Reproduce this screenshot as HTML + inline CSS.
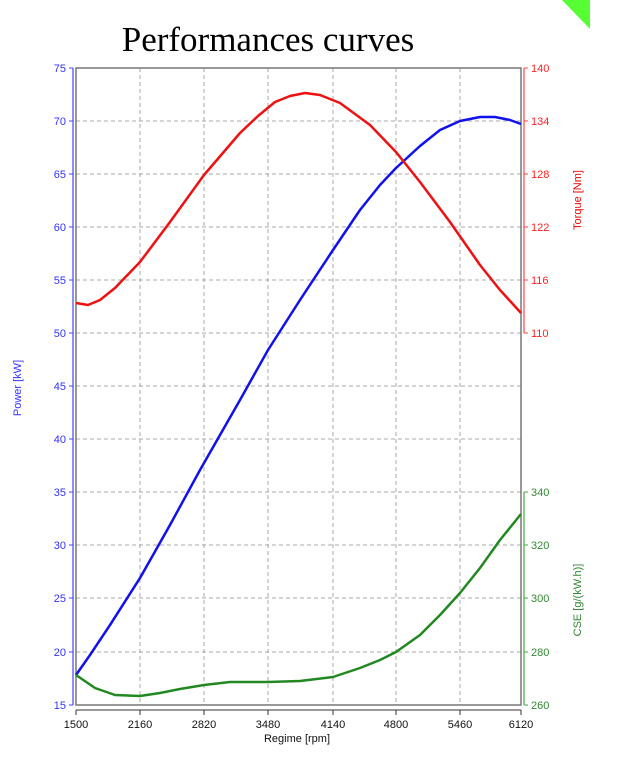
<!DOCTYPE html><html><head><style>body{margin:0;background:#fff}svg{display:block}</style></head><body>
<svg width="617" height="768" xmlns="http://www.w3.org/2000/svg" font-family="Liberation Sans, sans-serif">
<polygon points="562,0 590,0 590,29" fill="#55ff33"/>
<text x="268" y="51" font-family="Liberation Serif, serif" font-size="35" text-anchor="middle">Performances curves</text>
<g stroke="#aaa" stroke-dasharray="4,3" stroke-width="1">
<line x1="140" y1="68" x2="140" y2="705"/><line x1="204" y1="68" x2="204" y2="705"/><line x1="268" y1="68" x2="268" y2="705"/><line x1="333" y1="68" x2="333" y2="705"/><line x1="396" y1="68" x2="396" y2="705"/><line x1="460" y1="68" x2="460" y2="705"/>
<line x1="76" y1="121" x2="521" y2="121"/><line x1="76" y1="174" x2="521" y2="174"/><line x1="76" y1="227" x2="521" y2="227"/><line x1="76" y1="280" x2="521" y2="280"/><line x1="76" y1="333" x2="521" y2="333"/><line x1="76" y1="386" x2="521" y2="386"/><line x1="76" y1="439" x2="521" y2="439"/><line x1="76" y1="492" x2="521" y2="492"/><line x1="76" y1="545" x2="521" y2="545"/><line x1="76" y1="598" x2="521" y2="598"/><line x1="76" y1="652" x2="521" y2="652"/>
</g>
<rect x="76" y="68" width="445" height="637" fill="none" stroke="#777" stroke-width="1.5"/>
<line x1="73" y1="68" x2="73" y2="705" stroke="#44f" stroke-width="1.2"/>
<g stroke="#44f"><line x1="69" y1="68" x2="73" y2="68"/><line x1="69" y1="121" x2="73" y2="121"/><line x1="69" y1="174" x2="73" y2="174"/><line x1="69" y1="227" x2="73" y2="227"/><line x1="69" y1="280" x2="73" y2="280"/><line x1="69" y1="333" x2="73" y2="333"/><line x1="69" y1="386" x2="73" y2="386"/><line x1="69" y1="439" x2="73" y2="439"/><line x1="69" y1="492" x2="73" y2="492"/><line x1="69" y1="545" x2="73" y2="545"/><line x1="69" y1="598" x2="73" y2="598"/><line x1="69" y1="652" x2="73" y2="652"/><line x1="69" y1="705" x2="73" y2="705"/></g>
<g fill="#33f" font-size="11" text-anchor="end"><text x="66" y="72">75</text><text x="66" y="125">70</text><text x="66" y="178">65</text><text x="66" y="231">60</text><text x="66" y="284">55</text><text x="66" y="337">50</text><text x="66" y="390">45</text><text x="66" y="443">40</text><text x="66" y="496">35</text><text x="66" y="549">30</text><text x="66" y="602">25</text><text x="66" y="656">20</text><text x="66" y="709">15</text></g>
<text transform="translate(21,388) rotate(-90)" fill="#33f" font-size="11" text-anchor="middle">Power [kW]</text>
<line x1="524" y1="68" x2="524" y2="333" stroke="#f44" stroke-width="1.2"/>
<g stroke="#f44"><line x1="524" y1="68" x2="528" y2="68"/><line x1="524" y1="121" x2="528" y2="121"/><line x1="524" y1="174" x2="528" y2="174"/><line x1="524" y1="227" x2="528" y2="227"/><line x1="524" y1="280" x2="528" y2="280"/><line x1="524" y1="333" x2="528" y2="333"/></g>
<g fill="#f22" font-size="11"><text x="531" y="72">140</text><text x="531" y="125">134</text><text x="531" y="178">128</text><text x="531" y="231">122</text><text x="531" y="284">116</text><text x="531" y="337">110</text></g>
<text transform="translate(581,200) rotate(-90)" fill="#e00" font-size="11" text-anchor="middle">Torque [Nm]</text>
<line x1="524" y1="492" x2="524" y2="705" stroke="#4a4" stroke-width="1.2"/>
<g stroke="#4a4"><line x1="524" y1="492" x2="528" y2="492"/><line x1="524" y1="545" x2="528" y2="545"/><line x1="524" y1="598" x2="528" y2="598"/><line x1="524" y1="652" x2="528" y2="652"/><line x1="524" y1="705" x2="528" y2="705"/></g>
<g fill="#383" font-size="11"><text x="531" y="496">340</text><text x="531" y="549">320</text><text x="531" y="602">300</text><text x="531" y="656">280</text><text x="531" y="709">260</text></g>
<text transform="translate(581,600) rotate(-90)" fill="#383" font-size="11" text-anchor="middle">CSE [g/(kW.h)]</text>
<line x1="76" y1="710" x2="521" y2="710" stroke="#333"/>
<g stroke="#333"><line x1="76" y1="710" x2="76" y2="715"/><line x1="140" y1="710" x2="140" y2="715"/><line x1="204" y1="710" x2="204" y2="715"/><line x1="268" y1="710" x2="268" y2="715"/><line x1="333" y1="710" x2="333" y2="715"/><line x1="396" y1="710" x2="396" y2="715"/><line x1="460" y1="710" x2="460" y2="715"/><line x1="521" y1="710" x2="521" y2="715"/></g>
<g font-size="11" text-anchor="middle" fill="#111"><text x="76" y="728">1500</text><text x="140" y="728">2160</text><text x="204" y="728">2820</text><text x="268" y="728">3480</text><text x="333" y="728">4140</text><text x="396" y="728">4800</text><text x="460" y="728">5460</text><text x="521" y="728">6120</text><text x="297" y="742">Regime [rpm]</text></g>
<g fill="none" stroke-width="2.5" stroke-linejoin="round">
<polyline stroke="#11e" points="76,675 90,655 110,625 140,578 170,525 200,470 240,400 268,350 300,300 333,250 360,210 380,185 396,168 420,146 440,130 460,121 480,117 495,117 510,120 521,124"/>
<polyline stroke="#e11" points="76,303 88,305 100,300 115,288 140,262 170,222 204,175 240,133 258,116 275,102 290,96 305,93 320,95 340,103 370,125 396,152 420,182 450,222 480,265 500,290 521,313"/>
<polyline stroke="#282" points="76,675 95,688 115,695 140,696 160,693 180,689 204,685 230,682 268,682 300,681 333,677 360,668 380,660 396,652 420,635 440,615 460,593 480,568 500,540 521,514"/>
</g>
</svg></body></html>
